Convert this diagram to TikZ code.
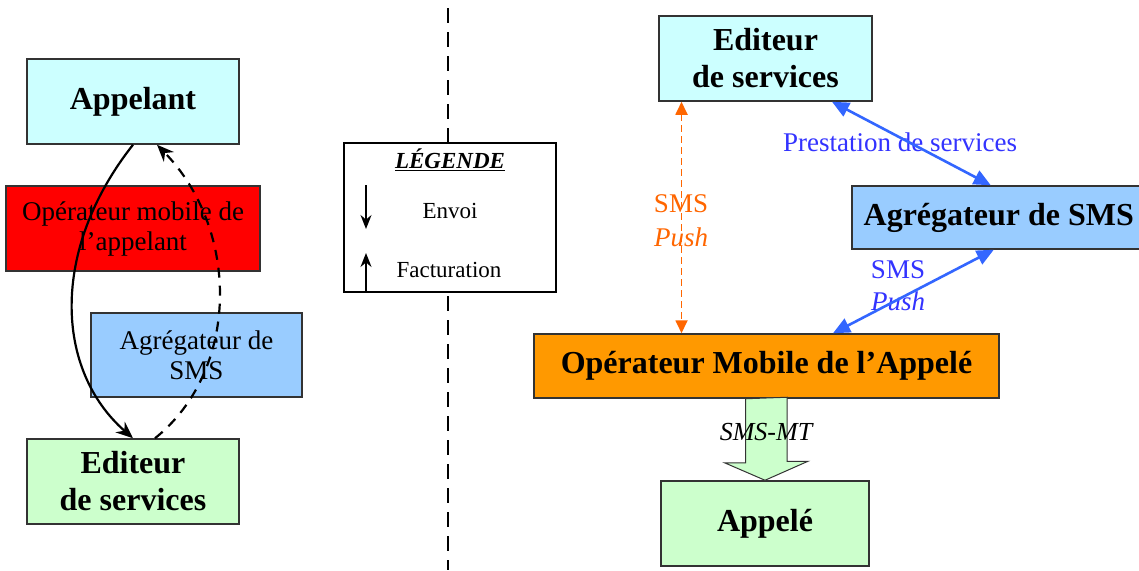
\documentclass[tikz,border=0pt]{standalone}
\usepackage{fontspec}
\setmainfont{Liberation Serif}
\usetikzlibrary{arrows.meta}
\definecolor{boxline}{HTML}{333333}
\definecolor{cyanbg}{HTML}{CCFFFF}
\definecolor{redbg}{HTML}{FF0000}
\definecolor{bluebg}{HTML}{99CCFF}
\definecolor{greenbg}{HTML}{CCFFCC}
\definecolor{orangebg}{HTML}{FF9900}
\definecolor{pushblue}{HTML}{3366FF}
\definecolor{labblue}{HTML}{3333FF}
\definecolor{pushorange}{HTML}{FF6600}
\tikzset{
  box/.style={draw=boxline, line width=1.5pt, align=center, inner sep=0pt},
  big/.style={font=\fontsize{32}{37}\selectfont\bfseries},
  small/.style={font=\fontsize{27}{30}\selectfont},
  leg/.style={font=\fontsize{23}{26}\selectfont},
  envoi/.style={draw=black, line width=2.2pt, -{Stealth[length=17pt,width=14pt]}},
  factu/.style={envoi, dash pattern=on 10pt off 8pt},
  legarrow/.style={draw=black, line width=1.5pt, -{Stealth[length=14pt,width=11pt]}},
  duplex/.style={draw=pushblue, line width=2.6pt, {Triangle[length=17pt,width=15pt]}-{Triangle[length=17pt,width=15pt]}},
  pushdash/.style={draw=pushorange, line width=1.8pt, dash pattern=on 7pt off 4pt, {Triangle[length=13pt,width=12pt]}-{Triangle[length=13pt,width=12pt]}},
  block/.style={draw=boxline, line width=1pt, fill=greenbg},
}

\begin{document}
\begin{tikzpicture}[x=1pt,y=-1pt]
  \useasboundingbox[fill=white] (0,0) rectangle (1139,570);

  % separation
  \draw[line width=2.6pt, dash pattern=on 15pt off 9pt] (448,8) -- (448,570);

  % gauche
  \node[box,big,fill=cyanbg,minimum width=212pt,minimum height=85pt] (appelant) at (133,101.5) {Appelant};
  \node[box,small,fill=redbg,minimum width=254pt,minimum height=85pt] (opappelant) at (133,228.5) {Opérateur mobile de\\l’appelant};
  \node[box,small,fill=bluebg,minimum width=211pt,minimum height=84pt] (agregL) at (196.5,355) {Agrégateur de\\SMS};
  \node[box,big,fill=greenbg,minimum width=212pt,minimum height=85pt] (editeurL) at (133,481.5) {Editeur\\de services};

  \draw[envoi] (appelant.south) .. controls (50,250) and (55,370) .. (editeurL.north);
  \draw[factu] ([xshift=22pt]editeurL.north) .. controls (240,370) and (240,230) .. ([xshift=24pt]appelant.south);

  % legende
  \node[box,draw=black,fill=white,minimum width=212pt,minimum height=149pt] (legende) at (450,217.5) {};
  \node[leg] (legtitre) at (450,160) {\underline{\textbf{\textit{LÉGENDE}}}};
  \node[leg] (envoitxt) at (450,211) {Envoi};
  \node[leg] (factutxt) at (449,270) {Facturation};
  \coordinate (envoihaut) at (366,185);
  \coordinate (envoibas) at (366,229);
  \coordinate (factuhaut) at (366,253);
  \draw[legarrow] (envoihaut) -- (envoibas);
  \draw[legarrow] (legende.south -| factuhaut) -- (factuhaut);

  % droite
  \node[box,big,fill=cyanbg,minimum width=213pt,minimum height=85pt] (editeurR) at (765.5,58.5) {Editeur\\de services};
  \node[box,big,fill=bluebg,minimum width=294pt,minimum height=63pt,anchor=west] (agregR) at (851,217.5) {Agrégateur de SMS};
  \node[box,big,fill=orangebg,minimum width=465pt,minimum height=64pt] (opappele) at (766.5,366) {Opérateur Mobile de l’Appelé};
  \node[box,big,fill=greenbg,minimum width=208pt,minimum height=85pt] (appele) at (765,523.5) {Appelé};

  \draw[block] ([xshift=-21pt]opappele.south) -- ++(0,64) -- ++(-21,0) -- (appele.north)
    -- ++(43,-19) -- ++(-21,0) -- ++(0,-64) -- cycle;
  \node[font=\fontsize{26}{30}\selectfont\itshape] (smsmt) at (766,432) {SMS-MT};

  \node[small,text=labblue] (prestation) at (900,142) {Prestation de services};
  \node[small,text=labblue,align=center,font=\fontsize{27}{32}\selectfont] (smspushB) at (898,286) {SMS\\\textit{Push}};
  \node[small,text=pushorange,align=center,font=\fontsize{27}{34}\selectfont] (smspushO) at (681,221) {SMS\\\textit{Push}};

  \draw[duplex] ([xshift=66.5pt]editeurR.south) -- ([xshift=-8pt]agregR.north);
  \draw[duplex] ([xshift=-5pt]agregR.south) -- ([xshift=66.5pt]opappele.north);
  \draw[pushdash] ([xshift=-84pt]editeurR.south) -- ([xshift=-85pt]opappele.north);
\end{tikzpicture}
\end{document}
